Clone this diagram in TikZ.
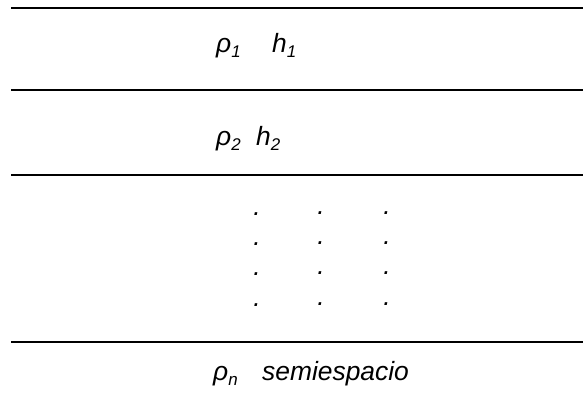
\documentclass[tikz,border=0pt]{standalone}
\usepackage{fontspec}
\setmainfont{Liberation Sans}
\begin{document}
\begin{tikzpicture}[x=1bp,y=-1bp,
  layer/.style={line width=2bp,black},
  lbl/.style={anchor=base west,inner sep=0pt,font=\fontsize{26.5}{30}\selectfont\itshape},
  dotlbl/.style={anchor=center,inner sep=0pt,font=\fontsize{26.5}{30}\selectfont\itshape}]
\newcommand{\lsub}[1]{\raisebox{-0.2em}{\fontsize{17}{17}\selectfont #1}}
\useasboundingbox (0,0) rectangle (583,392);
\draw[layer] (11,7.5) -- (583,7.5);
\draw[layer] (11,89.5) -- (583,89.5);
\draw[layer] (11,175) -- (583,175);
\draw[layer] (11,342) -- (583,342);
\node[lbl] (r1) at (216,52) {ρ\lsub{1}};
\node[lbl] (h1) at (272,52) {h\lsub{1}};
\node[lbl] (r2) at (216,145) {ρ\lsub{2}};
\node[lbl] (h2) at (256,145) {h\lsub{2}};
\node[lbl] (rn) at (213,380) {ρ\lsub{n}};
\node[lbl] (se) at (262,380) {semiespacio};
\foreach \r/\y in {1/213,2/243,3/273,4/304}{
  \node[dotlbl] (da\r) at (257,\y+1) {.};
  \node[dotlbl] (db\r) at (321,\y) {.};
  \node[dotlbl] (dc\r) at (387,\y) {.};
}
\end{tikzpicture}
\end{document}
